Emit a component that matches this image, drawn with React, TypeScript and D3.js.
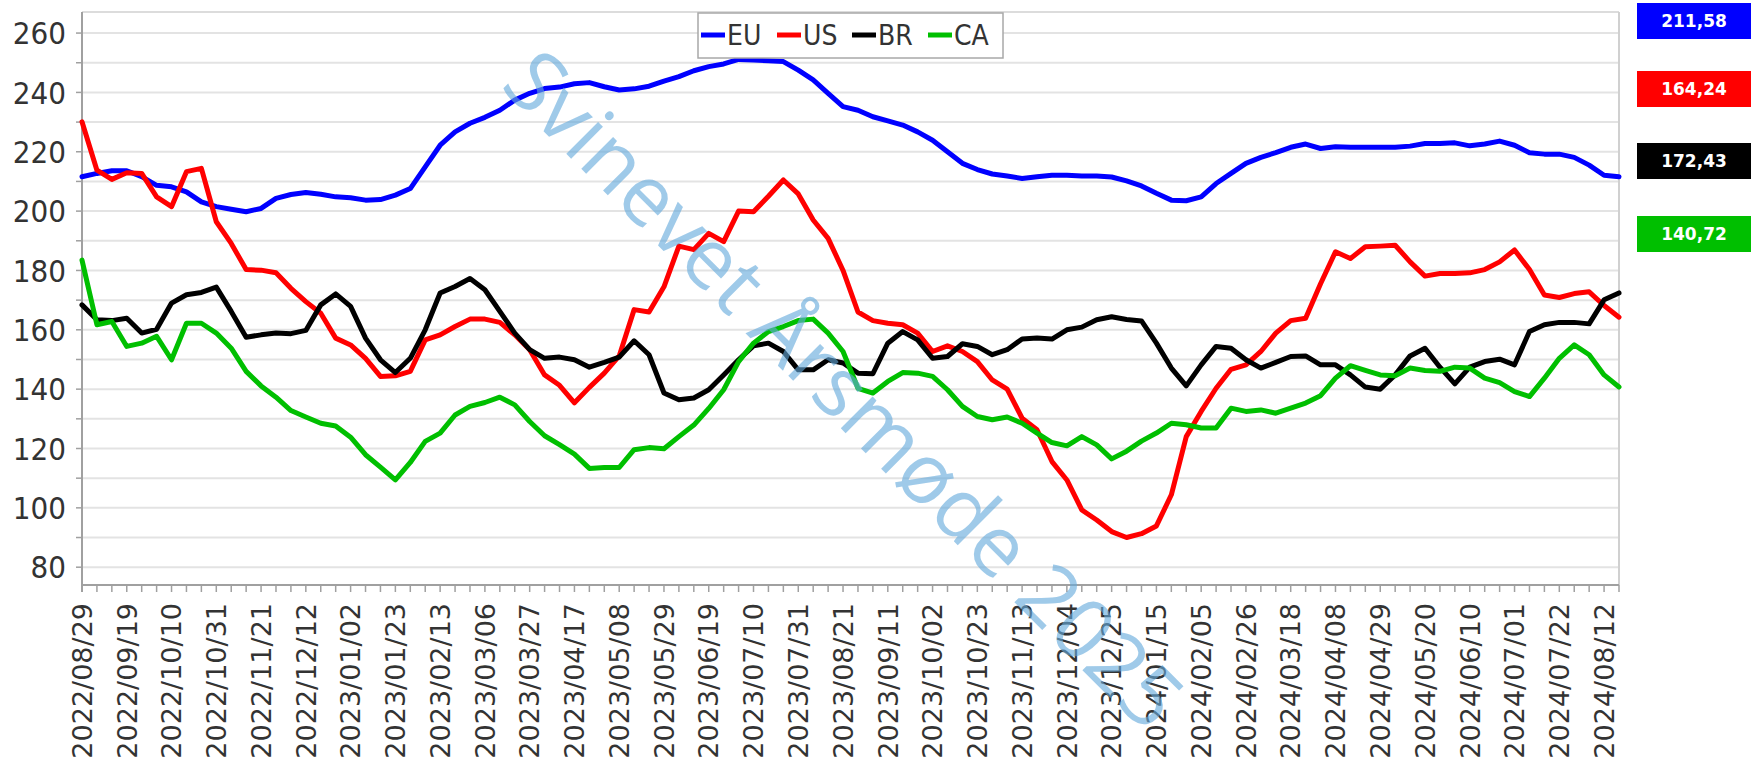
import React from "react";
import * as d3 from "d3";

// ---- data (weekly, 2022/08/29 .. 2024/08/19) ----
const tickLabels = [
  "2022/08/29","2022/09/19","2022/10/10","2022/10/31","2022/11/21","2022/12/12",
  "2023/01/02","2023/01/23","2023/02/13","2023/03/06","2023/03/27","2023/04/17",
  "2023/05/08","2023/05/29","2023/06/19","2023/07/10","2023/07/31","2023/08/21",
  "2023/09/11","2023/10/02","2023/10/23","2023/11/13","2023/12/04","2023/12/25",
  "2024/01/15","2024/02/05","2024/02/26","2024/03/18","2024/04/08","2024/04/29",
  "2024/05/20","2024/06/10","2024/07/01","2024/07/22","2024/08/12",
];
const tickEvery = 3; // one label every third week

const EU = [
  211.6,212.7,213.6,213.6,211.6,208.7,208.2,206.5,203.1,201.5,200.6,199.8,200.9,204.3,205.6,206.3,
  205.7,204.8,204.5,203.7,203.9,205.4,207.6,214.9,222.2,226.7,229.6,231.6,234.0,237.4,239.7,241.3,
  241.8,242.9,243.3,241.9,240.8,241.2,242.1,243.8,245.3,247.3,248.7,249.6,251.1,250.9,250.7,250.4,
  247.5,244.2,239.7,235.2,234.0,231.8,230.4,229.0,226.7,223.9,220.0,216.1,214.0,212.5,211.8,211.0,
  211.6,212.1,212.1,211.8,211.8,211.5,210.2,208.5,206.0,203.7,203.5,204.8,209.3,212.7,216.1,218.1,
  219.7,221.5,222.6,221.1,221.7,221.5,221.5,221.5,221.5,221.9,222.8,222.8,223.0,222.0,222.6,223.6,
  222.2,219.7,219.2,219.2,218.1,215.5,212.1,211.58,
];
const US = [
  230.1,213.8,210.7,212.9,212.7,204.8,201.5,213.3,214.4,196.4,189.1,180.3,180.1,179.2,174.0,169.5,
  165.6,157.2,154.9,150.4,144.3,144.5,146.0,156.6,158.3,161.1,163.6,163.6,162.5,158.3,153.3,144.8,
  141.3,135.4,140.6,145.4,151.2,166.8,166.0,174.5,188.2,187.0,192.5,189.7,200.0,199.8,205.0,210.5,
  205.8,197.0,190.8,180.0,166.0,163.1,162.2,161.7,158.9,152.7,154.6,152.7,149.3,143.1,140.0,130.2,
  126.3,115.6,109.4,99.3,95.9,92.0,90.0,91.3,93.9,104.4,124.0,132.5,140.3,146.7,148.2,152.7,
  158.9,163.1,163.9,175.5,186.3,184.0,188.0,188.2,188.5,182.9,178.1,179.0,179.0,179.2,180.3,182.9,
  186.9,180.3,171.7,170.9,172.2,172.8,168.2,164.24,
];
const BR = [
  168.4,163.4,163.1,163.9,158.9,160.2,169.0,171.8,172.6,174.4,166.2,157.5,158.3,158.9,158.7,159.8,
  168.4,172.1,167.9,157.2,149.9,145.6,150.4,160.0,172.4,174.6,177.3,173.5,166.2,158.9,153.3,150.4,
  150.8,149.9,147.4,149.0,150.8,156.3,151.6,138.7,136.4,137.0,139.8,144.8,149.9,154.6,155.5,152.7,
  146.5,146.5,149.9,148.8,145.4,145.2,155.5,159.4,156.6,150.4,151.0,155.3,154.4,151.6,153.3,156.9,
  157.2,156.9,160.0,160.9,163.4,164.4,163.5,163.0,155.5,147.1,141.1,148.2,154.4,153.8,149.9,147.1,
  149.0,151.0,151.2,148.2,148.2,144.8,140.7,140.0,144.8,151.2,153.8,147.4,141.8,147.4,149.3,150.1,
  148.2,159.4,161.7,162.5,162.5,162.0,170.1,172.43,
];
const CA = [
  183.5,161.7,162.8,154.4,155.5,157.8,149.9,162.2,162.2,158.9,153.8,146.0,141.1,137.3,132.8,130.6,
  128.5,127.6,123.8,117.9,113.7,109.4,115.3,122.4,125.2,131.3,134.2,135.5,137.3,134.7,129.1,124.3,
  121.3,118.1,113.3,113.6,113.6,119.6,120.3,119.9,124.0,127.9,133.5,139.8,149.3,155.5,159.4,161.1,
  163.1,163.6,158.9,152.7,140.3,138.7,142.6,145.6,145.4,144.3,139.8,134.2,130.8,129.7,130.6,128.5,
  125.2,122.0,120.9,124.0,121.2,116.5,119.1,122.5,125.2,128.5,128.0,126.9,126.9,133.6,132.5,133.0,
  131.9,133.6,135.3,137.8,143.7,147.9,146.3,144.8,144.5,147.1,146.3,146.0,147.4,147.1,143.7,142.2,
  139.2,137.5,143.7,150.4,154.9,151.6,144.8,140.72,
];

const seriesNames = ["EU", "US", "BR", "CA"];
const seriesValues = [EU, US, BR, CA];
const seriesColors = ["#0000ff", "#ff0000", "#000000", "#00bf00"];

const yTickValues = [80, 100, 120, 140, 160, 180, 200, 220, 240, 260];
const watermarkText = "Svinevet Årsmøde 2025";

// ---- layout ----
const W = 1754;
const H = 766;
const L = 82;
const R = 1619;
const T = 12;
const B = 585;

const sansC = "'DejaVu Sans Condensed', 'DejaVu Sans', sans-serif";
const sans = "'DejaVu Sans', Verdana, sans-serif";

export default function App() {
  const n = EU.length;
  const x = d3.scaleLinear().domain([0, n - 1]).range([L, R]);
  const y = d3.scaleLinear().domain([74, 267.1]).range([B, T]);
  const line = d3
    .line<number>()
    .x((_, i) => x(i))
    .y((v) => y(v));

  const gridVals = d3.range(80, 261, 10);
  const weekIdx = d3.range(n);

  const legendItems = [
    { x: 701, tx: 727 },
    { x: 777, tx: 803 },
    { x: 852, tx: 878 },
    { x: 928, tx: 954 },
  ];
  const boxTops = [3, 71, 143, 216];

  return (
    <svg
      width={W}
      height={H}
      style={{ position: "absolute", left: 0, top: 0, background: "#fff" }}
    >
      <rect x={0} y={0} width={W} height={H} fill="#fff" />
      {/* gridlines */}
      {gridVals.map((v) => (
        <line key={"g" + v} x1={L} x2={R} y1={y(v)} y2={y(v)} stroke="#e3e3e3" strokeWidth={2} />
      ))}
      {/* top border */}
      <line x1={L} x2={R} y1={T} y2={T} stroke="#dcdcdc" strokeWidth={2} />
      {/* right border */}
      <line x1={R} x2={R} y1={T} y2={B} stroke="#d0d0d0" strokeWidth={2} />
      {/* y axis */}
      <line x1={L} x2={L} y1={T} y2={B + 7} stroke="#a0a0a0" strokeWidth={2} />
      {gridVals.map((v) => (
        <line key={"yt" + v} x1={L - 6} x2={L} y1={y(v)} y2={y(v)} stroke="#a0a0a0" strokeWidth={1.5} />
      ))}
      {yTickValues.map((v) => (
        <text
          key={"yl" + v}
          x={66}
          y={y(v)}
          dy="0.36em"
          textAnchor="end"
          fontFamily={sansC}
          fontStretch="condensed"
          fontSize={31}
          fill="#333"
        >
          {v}
        </text>
      ))}
      {/* x axis */}
      <line x1={L} x2={R} y1={B} y2={B} stroke="#a0a0a0" strokeWidth={2} />
      {weekIdx.map((i) => (
        <line key={"xt" + i} x1={x(i)} x2={x(i)} y1={B} y2={B + 7} stroke="#a0a0a0" strokeWidth={1.5} />
      ))}
      {tickLabels.map((lab, k) => {
        const xi = x(k * tickEvery);
        return (
          <text
            key={"xl" + k}
            transform={`translate(${xi},${603}) rotate(-90)`}
            dy="0.36em"
            textAnchor="end"
            fontFamily={sans}
            fontSize={27}
            fill="#333"
          >
            {lab}
          </text>
        );
      })}
      {/* series */}
      {seriesValues.map((vals, s) => (
        <path
          key={"s" + s}
          d={line(vals) || ""}
          fill="none"
          stroke={seriesColors[s]}
          strokeWidth={5}
          strokeLinejoin="round"
          strokeLinecap="round"
        />
      ))}
      {/* legend */}
      <rect x={698} y={13} width={305} height={45} fill="#fff" stroke="#a8a8a8" strokeWidth={1.5} />
      {seriesNames.map((name, s) => (
        <g key={"lg" + s}>
          <line
            x1={legendItems[s].x}
            x2={legendItems[s].x + 24}
            y1={35}
            y2={35}
            stroke={seriesColors[s]}
            strokeWidth={5}
          />
          <text
            x={legendItems[s].tx}
            y={35}
            dy="0.36em"
            fontFamily={sansC}
            fontStretch="condensed"
            fontSize={28}
            fill="#333"
          >
            {name}
          </text>
        </g>
      ))}
      {/* last-value boxes */}
      {seriesValues.map((vals, s) => (
        <g key={"bx" + s}>
          <rect x={1637} y={boxTops[s]} width={114} height={36} fill={seriesColors[s]} />
          <text
            x={1637 + 57}
            y={boxTops[s] + 18}
            dy="0.36em"
            textAnchor="middle"
            fontFamily={sans}
            fontWeight="bold"
            fontSize={17}
            fill="#fff"
          >
            {vals[vals.length - 1].toFixed(2).replace(".", ",")}
          </text>
        </g>
      ))}
      {/* watermark */}
      <text
        transform={`translate(841,393) rotate(45)`}
        dy="0.3em"
        textAnchor="middle"
        fontFamily="'Open Sans', 'Noto Sans', sans-serif"
        fontSize={84}
        fill="rgb(100,170,220)"
        fillOpacity={0.62}
      >
        {watermarkText}
      </text>
    </svg>
  );
}
